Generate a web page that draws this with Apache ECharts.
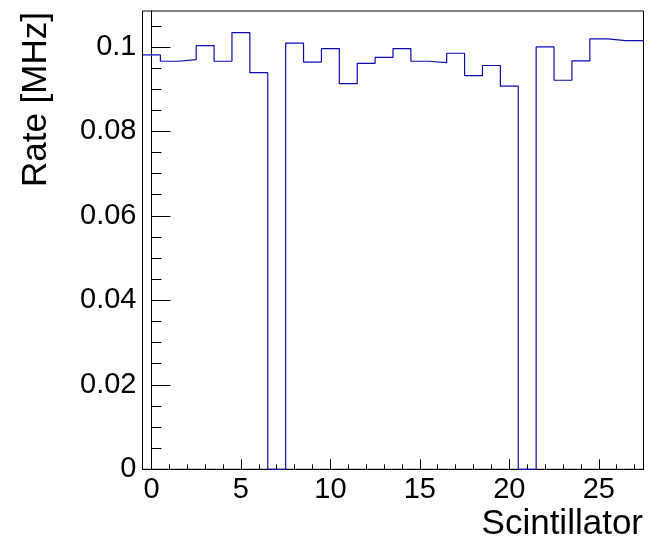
<!DOCTYPE html>
<html>
<head>
<meta charset="utf-8">
<script src="https://cdn.jsdelivr.net/npm/echarts@6/dist/echarts.min.js"></script>
<style>
html,body{margin:0;padding:0;background:#fff;}
#chart{width:648px;height:542px;}
</style>
</head>
<body>
<div id="chart"></div>
<script>
// Data
const scintillators = [0,1,2,3,4,5,6,7,8,9,10,11,12,13,14,15,16,17,18,19,20,21,22,23,24,25,26,27];
const rates = [0.0981,0.0966,0.0970,0.1003,0.0966,0.1034,0.0939,0,0.1009,0.0964,0.0996,0.0913,0.0961,0.0975,0.0996,0.0966,0.0963,0.0985,0.0932,0.0956,0.0907,0,0.1000,0.0921,0.0967,0.1019,0.1015,0.1015];
const xMajorTicks = [0,5,10,15,20,25];
const xMinorTicks = scintillators;
const yMajorTicks = [0,0.02,0.04,0.06,0.08,0.1];
const yMinorTicks = [0.005,0.01,0.015,0.025,0.03,0.035,0.045,0.05,0.055,0.065,0.07,0.075,0.085,0.09,0.095,0.105];
const xTitle = 'Scintillator';
const yTitle = 'Rate [MHz]';

// Histogram step points from bin edges
const stepData = scintillators.map((s, i) => [s - 0.5, rates[i]]);
stepData.push([scintillators[scintillators.length - 1] + 0.5, rates[rates.length - 1]]);

const FONT = 'Liberation Sans, Arial, Helvetica, sans-serif';
const chart = echarts.init(document.getElementById('chart'), null, {renderer: 'canvas'});
const xMin = -0.5, xMax = 27.5, yMin = 0, yMax = 0.1085;

chart.setOption({
  animation: false,
  backgroundColor: '#fff',
  grid: {left: 142.5, right: 4.5, top: 11, bottom: 72.7, show: true, borderColor: '#000', borderWidth: 1, backgroundColor: 'transparent'},
  xAxis: [
    {
      type: 'value', min: xMin, max: xMax, position: 'bottom',
      axisLine: {show: true, lineStyle: {color: '#000', width: 1}},
      axisTick: {show: true, inside: true, length: 10, customValues: xMajorTicks, lineStyle: {color: '#000', width: 1}},
      axisLabel: {show: true, customValues: xMajorTicks, margin: 6, color: '#000', fontSize: 29, fontFamily: FONT},
      splitLine: {show: false}
    },
    {
      type: 'value', min: xMin, max: xMax, position: 'bottom',
      axisLine: {show: false},
      axisTick: {show: true, inside: true, length: 5, customValues: xMinorTicks, lineStyle: {color: '#000', width: 1}},
      axisLabel: {show: false},
      splitLine: {show: false}
    }
  ],
  yAxis: [
    {
      type: 'value', min: yMin, max: yMax, position: 'left',
      axisLine: {show: true, lineStyle: {color: '#000', width: 1}},
      axisTick: {show: true, inside: true, length: 19, customValues: yMajorTicks, lineStyle: {color: '#000', width: 1}},
      axisLabel: {show: true, customValues: yMajorTicks, margin: 6, color: '#000', fontSize: 29, fontFamily: FONT,
        formatter: v => (Math.round(v * 1000) / 1000).toString()},
      splitLine: {show: false}
    },
    {
      type: 'value', min: yMin, max: yMax, position: 'left',
      axisLine: {show: false},
      axisTick: {show: true, inside: true, length: 10, customValues: yMinorTicks, lineStyle: {color: '#000', width: 1}},
      axisLabel: {show: false},
      splitLine: {show: false}
    }
  ],
  series: [{
    type: 'line', xAxisIndex: 0, yAxisIndex: 0, step: 'end', showSymbol: false, symbol: 'none',
    data: stepData,
    lineStyle: {color: '#0c0cb0', width: 1.2},
    z: 3
  }],
  graphic: [
    {type: 'text', x: 643, y: 524, style: {text: xTitle, align: 'right', verticalAlign: 'middle', fill: '#000', font: '35px ' + FONT}},
    {type: 'text', x: 36, y: 12, rotation: Math.PI / 2, style: {text: yTitle, align: 'right', verticalAlign: 'middle', fill: '#000', font: '35px ' + FONT}}
  ]
});
</script>
</body>
</html>
